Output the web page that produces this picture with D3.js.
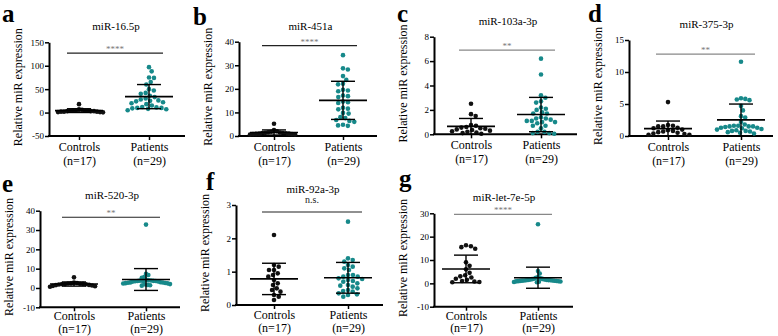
<!DOCTYPE html>
<html>
<head>
<meta charset="utf-8">
<script src="https://cdn.jsdelivr.net/npm/d3@7"></script>
<style>
  body { margin: 0; background: #fff; }
  svg { display: block; }
  svg text { font-family: "Times New Roman", "Liberation Serif", Tinos, "DejaVu Serif", "Noto Serif", FreeSerif, Times, serif; }
</style>
</head>
<body>
<svg id="chart" width="778" height="336"></svg>
<script>
// ---- data ----
var groups = ["Controls", "Patients"];
var groupN = ["(n=17)", "(n=29)"];
var panelLetters = ["a", "b", "c", "d", "e", "f", "g"];
var titles = ["miR-16.5p", "miR-451a", "miR-103a-3p", "miR-375-3p", "miR-520-3p", "miR-92a-3p", "miR-let-7e-5p"];
var sigLabels = ["****", "****", "**", "**", "**", "n.s.", "****"];
var yDomains = [[-50, 150], [0, 40], [0, 8], [0, 15], [-10, 40], [0, 3], [-10, 30]];
var yTicks = [
  [-50, 0, 50, 100, 150],
  [0, 10, 20, 30, 40],
  [0, 2, 4, 6, 8],
  [0, 5, 10, 15],
  [-10, 0, 10, 20, 30, 40],
  [0, 1, 2, 3],
  [-10, 0, 10, 20, 30]
];

var controls = [
  [18, 7, 6, 5, 5, 4, 4, 4, 3, 3, 3, 2, 2, 2, 1, 1, 0.5],
  [5.2, 2.5, 2.0, 1.8, 1.6, 1.5, 1.4, 1.3, 1.2, 1.1, 1.0, 1.0, 0.9, 0.8, 0.8, 0.7, 0.6],
  [2.5, 1.65, 1.5, 0.75, 0.7, 0.6, 0.55, 0.5, 0.45, 0.4, 0.35, 0.3, 0.25, 0.2, 0.15, 0.1, 0.05],
  [5.3, 1.7, 1.6, 1.5, 1.5, 1.3, 1.2, 1.0, 0.9, 0.8, 0.7, 0.6, 0.5, 0.4, 0.3, 0.2, 0.2],
  [5.5, 2.8, 2.6, 2.4, 2.3, 2.2, 2.1, 2.0, 2.0, 1.9, 1.8, 1.6, 1.5, 1.3, 1.1, 0.9, 0.6],
  [2.1, 1.2, 1.15, 1.05, 1.05, 0.95, 0.9, 0.85, 0.75, 0.65, 0.6, 0.5, 0.45, 0.4, 0.3, 0.25, 0.15],
  [16.3, 15.9, 15.5, 14.8, 9.0, 7.5, 6.0, 4.5, 3.5, 3.0, 2.5, 2.0, 1.5, 1.0, 0.8, 0.6, 0.5]
];

var patients = [
  [97, 88, 75, 74, 65, 60, 50, 47, 42, 40, 36, 33, 30, 28, 26, 25, 24, 22, 20, 18, 15, 12, 11, 10, 9, 10, 8, 7, 5],
  [34.3, 28.7, 28.2, 25.4, 23.8, 22.2, 21.9, 19.6, 19.3, 19.0, 17.2, 16.9, 16.5, 14.6, 14.3, 14.0, 12.0, 11.6, 11.3, 9.8, 9.5, 8.0, 7.6, 6.8, 6.4, 6.0, 4.8, 4.5, 4.3],
  [6.2, 4.9, 3.2, 3.0, 2.7, 2.6, 2.2, 2.1, 2.0, 1.8, 1.7, 1.7, 1.4, 1.3, 1.3, 1.2, 1.1, 1.1, 1.0, 1.0, 0.9, 0.7, 0.7, 0.5, 0.2, 0.2, 0.1, 0.1, 0.05],
  [11.6, 5.9, 5.8, 5.7, 5.6, 4.7, 4.0, 3.1, 2.9, 2.2, 1.8, 1.6, 1.6, 1.5, 1.5, 1.5, 1.4, 1.3, 1.3, 1.2, 1.1, 1.0, 0.9, 0.8, 0.8, 0.7, 0.6, 0.5, 0.4],
  [32.8, 7.3, 6.7, 5.6, 5.3, 4.2, 4.0, 3.9, 3.7, 3.6, 3.8, 3.6, 3.5, 3.4, 3.3, 3.2, 3.0, 2.9, 2.8, 2.7, 2.6, 2.5, 2.4, 2.3, 2.0, 1.8, 1.6, 1.4, 1.2],
  [2.5, 1.4, 1.35, 1.3, 1.2, 1.15, 1.1, 1.05, 0.9, 0.85, 0.9, 0.85, 0.8, 0.78, 0.75, 0.72, 0.7, 0.65, 0.6, 0.58, 0.55, 0.5, 0.45, 0.42, 0.4, 0.35, 0.32, 0.3, 0.25],
  [25.3, 5.3, 4.2, 2.6, 2.4, 2.2, 2.0, 1.9, 1.8, 1.7, 1.6, 1.5, 1.45, 1.4, 1.35, 1.3, 1.25, 1.2, 1.15, 1.1, 1.05, 1.0, 0.95, 0.9, 0.85, 0.8, 0.7, 0.6, 0.5]
];

// ---- panel placement ----
var layout = [
  {x0: 49,  x1: 185, top: 42.3,  bottom: 136,   cx: [79, 149],  sigAt: 127,  sigColor: "#222", letter: [2, 22],   lab: [15, 13.5]},
  {x0: 239, x1: 377, top: 41.7,  bottom: 136,   cx: [274, 343], sigAt: 38.3, sigColor: "#222", letter: [193, 25], lab: [15, 13.5]},
  {x0: 434, x1: 577, top: 36.7,  bottom: 134.3, cx: [471, 541], sigAt: 6.9,  sigColor: "#888", letter: [397, 22], lab: [15, 13.5]},
  {x0: 629, x1: 773, top: 40,    bottom: 136,   cx: [668, 741], sigAt: 12.8, sigColor: "#888", letter: [588, 22], lab: [15, 13.5]},
  {x0: 40,  x1: 180, top: 210.7, bottom: 307.3, cx: [74, 146],  sigAt: 36.6, sigColor: "#222", letter: [2, 192],  lab: [13, 12.5]},
  {x0: 236, x1: 383, top: 205,   bottom: 305,   cx: [274, 348], sigAt: 2.79, sigColor: "#222", letter: [206, 190], lab: [14, 12.5]},
  {x0: 434, x1: 573, top: 213.3, bottom: 306.7, cx: [466, 538], sigAt: 29.5, sigColor: "#888", letter: [399, 187], lab: [13, 12.5]}
];

var teal = "#17898a";
var r = 2.3;
var maxHalf = 24;

var svg = d3.select("#chart");

// simple beeswarm: keep y, push x sideways until no overlap, then squeeze
function swarm(vals, y, cx) {
  var d = 2 * r + 0.4;
  var pts = vals.map(function(v) { return {v: v, y: y(v)}; })
    .sort(function(a, b) { return b.v - a.v; });
  var placed = [];
  pts.forEach(function(p) {
    var near = placed.filter(function(q) { return Math.abs(q.y - p.y) < d; });
    var cands = [0];
    near.forEach(function(q) {
      var w = Math.sqrt(d * d - (q.y - p.y) * (q.y - p.y));
      cands.push(q.dx + w, q.dx - w);
    });
    cands.sort(function(a, b) { return Math.abs(a) - Math.abs(b) || b - a; });
    for (var i = 0; i < cands.length; i++) {
      var ok = near.every(function(q) {
        var dx = q.dx - cands[i], dy = q.y - p.y;
        return dx * dx + dy * dy >= d * d - 0.01;
      });
      if (ok) { p.dx = cands[i]; break; }
    }
    placed.push(p);
  });
  var w = d3.max(placed, function(p) { return Math.abs(p.dx); });
  var k = w > maxHalf ? maxHalf / w : 1;
  placed.forEach(function(p) { p.x = cx + p.dx * k; });
  return placed;
}

layout.forEach(function(L, i) {
  var g = svg.append("g");

  var y = d3.scaleLinear().domain(yDomains[i]).range([L.bottom, L.top]);
  var x = d3.scalePoint().domain(groups).range(L.cx);

  // panel letter
  g.append("text")
    .attr("x", L.letter[0]).attr("y", L.letter[1])
    .style("font-size", "25px").style("font-weight", "bold")
    .text(panelLetters[i]);

  // title
  g.append("text")
    .attr("x", (L.cx[0] + L.cx[1]) / 2 + 2).attr("y", L.top - 12)
    .attr("text-anchor", "middle")
    .style("font-size", "11px")
    .text(titles[i]);

  // y axis label
  g.append("text")
    .attr("transform", "translate(" + (L.x0 - 27) + "," + ((L.top + L.bottom) / 2 - 2) + ") rotate(-90)")
    .attr("text-anchor", "middle")
    .style("font-size", "12px")
    .text("Relative miR expression");

  // y axis
  var ya = g.append("g")
    .attr("transform", "translate(" + L.x0 + ",0)")
    .call(d3.axisLeft(y).tickValues(yTicks[i]).tickFormat(function(d) { return d; })
      .tickSize(4).tickSizeOuter(0));
  ya.attr("font-family", null);
  ya.select(".domain").attr("stroke-width", 2);
  ya.selectAll(".tick line").attr("stroke-width", 1.5);
  ya.selectAll(".tick text").style("font-size", "9px").attr("x", -5);

  // x axis
  var xa = g.append("g")
    .attr("transform", "translate(0," + L.bottom + ")")
    .call(d3.axisBottom(x).tickSize(4).tickSizeOuter(0));
  xa.attr("font-family", null);
  xa.select(".domain").remove();
  xa.append("line")
    .attr("x1", L.x0 - 1).attr("x2", L.x1)
    .attr("stroke", "#000").attr("stroke-width", 2);
  xa.selectAll(".tick line").attr("stroke-width", 1.5);
  xa.selectAll(".tick text").each(function(d, k) {
    var t = d3.select(this).text(null)
      .style("font-size", "12px").attr("fill", "#000").attr("y", 0).attr("dy", null);
    t.append("tspan").attr("x", 0).attr("dy", L.lab[0]).text(d);
    t.append("tspan").attr("x", 0).attr("dy", L.lab[1]).text(groupN[k]);
  });

  // significance bar
  var sy = y(L.sigAt);
  g.append("line")
    .attr("x1", x(groups[0]) - 12).attr("x2", x(groups[1]) + 14)
    .attr("y1", sy).attr("y2", sy)
    .attr("stroke", L.sigColor).attr("stroke-width", 1.2);
  var ns = sigLabels[i] === "n.s.";
  g.append("text")
    .attr("x", (x(groups[0]) + x(groups[1])) / 2 + 1)
    .attr("y", ns ? sy - 9 : sy - 1)
    .attr("text-anchor", "middle")
    .style("font-size", ns ? "10px" : "9px")
    .attr("fill", ns ? "#222" : "#777")
    .text(sigLabels[i]);

  // dots + mean ± SD
  [controls[i], patients[i]].forEach(function(vals, k) {
    var cx = x(groups[k]);
    var col = k === 0 ? "#111" : teal;
    g.append("g").selectAll("circle")
      .data(swarm(vals, y, cx))
      .enter().append("circle")
      .attr("cx", function(d) { return d.x; })
      .attr("cy", function(d) { return d.y; })
      .attr("r", r)
      .attr("fill", col);

    var m = d3.mean(vals), sd = d3.deviation(vals);
    var lo = Math.max(m - sd, yDomains[i][0]), hi = m + sd;
    var eb = g.append("g").attr("stroke", "#000");
    eb.append("line").attr("x1", cx - 24).attr("x2", cx + 24)
      .attr("y1", y(m)).attr("y2", y(m)).attr("stroke-width", 1.6);
    eb.append("line").attr("x1", cx).attr("x2", cx)
      .attr("y1", y(lo)).attr("y2", y(hi)).attr("stroke-width", 1.4);
    [hi, lo].forEach(function(v) {
      eb.append("line").attr("x1", cx - 12).attr("x2", cx + 12)
        .attr("y1", y(v)).attr("y2", y(v)).attr("stroke-width", 1.4);
    });
  });
});
</script>
</body>
</html>
